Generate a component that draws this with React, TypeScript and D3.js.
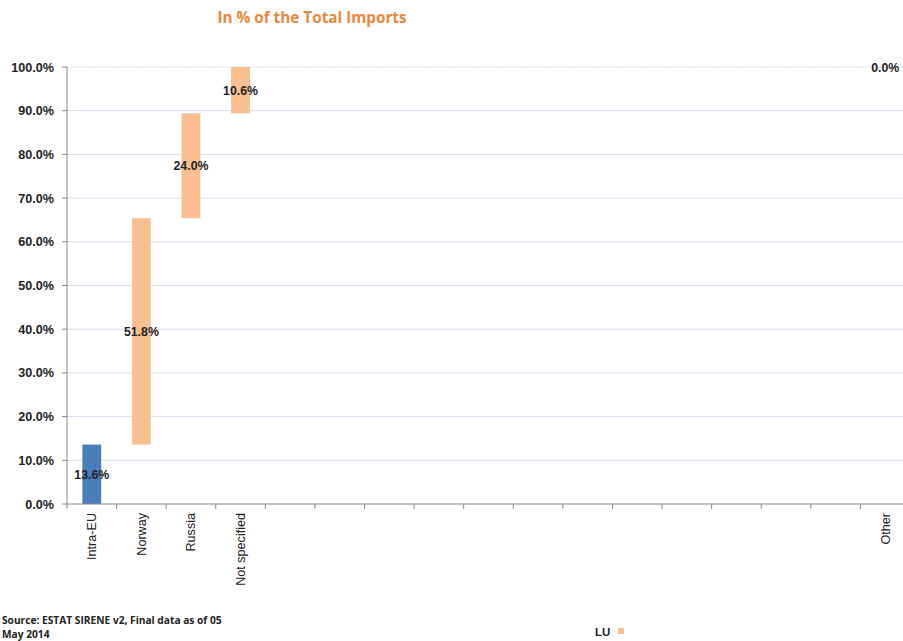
import React from "react";
import * as d3 from "d3";

const categories: string[] = [
  "Intra-EU", "Norway", "Russia", "Not specified",
  "", "", "", "", "", "", "", "", "", "", "", "",
  "Other",
];
const values: (number | null)[] = [
  13.6, 51.8, 24.0, 10.6,
  null, null, null, null, null, null, null, null, null, null, null, null,
  0.0,
];
const yTicks: number[] = [0, 10, 20, 30, 40, 50, 60, 70, 80, 90, 100];

const W = 903;
const H = 641;
const left = 67;
const right = 910;
const top = 67;
const bottom = 504;

const BLUE = "#4a7ebb";
const ORANGE = "#f9bf8f";

export default function App() {
  const x = d3.scaleBand<number>()
    .domain(categories.map((_, i) => i))
    .range([left, right])
    .paddingInner(0.62)
    .paddingOuter(0.31);
  const y = d3.scaleLinear().domain([0, 100]).range([bottom, top]);

  let cum = 0;
  const bars = values.map((v, i) => {
    if (v === null) return null;
    const start = cum;
    cum += v;
    return { i, v, start, end: cum };
  }).filter(Boolean) as { i: number; v: number; start: number; end: number }[];

  const step = (right - left) / categories.length;
  const boundaries = d3.range(categories.length + 1).map((k) => left + k * step);

  return (
    <svg width={W} height={H} style={{ position: "absolute", left: 0, top: 0, background: "#fff" }}>
      <text x={312} y={23} textAnchor="middle" fontFamily="'Open Sans', Lato, sans-serif" fontWeight="bold" fontSize={15.3} fill="#e9873b">
        In % of the Total Imports
      </text>
      {yTicks.map((t) => (
        <g key={t}>
          {t > 0 && (
            <line x1={left} x2={W} y1={y(t)} y2={y(t)} stroke="#d8dcee" strokeWidth={1}
              strokeDasharray={t === 100 ? "2,1" : undefined} />
          )}
          <line x1={left - 5} x2={left} y1={y(t)} y2={y(t)} stroke="#888" />
          <text x={54} y={y(t) + 4.5} textAnchor="end" fontFamily="'Liberation Sans', Arial, sans-serif" fontWeight="bold" fontSize={12.6} fill="#222">
            {t.toFixed(1)}%
          </text>
        </g>
      ))}
      {bars.map((b) => {
        const y0 = y(b.start);
        const y1 = y(b.end);
        return (
          <rect key={b.i} x={x(b.i)} width={x.bandwidth()} y={Math.min(y0, y1)} height={Math.abs(y0 - y1)}
            fill={b.i === 0 ? BLUE : ORANGE} />
        );
      })}
      <line x1={left} x2={left} y1={top} y2={bottom} stroke="#888" />
      <line x1={left} x2={W} y1={bottom} y2={bottom} stroke="#888" />
      {boundaries.map((bx, k) => (
        <line key={k} x1={bx} x2={bx} y1={bottom} y2={bottom + 5} stroke="#888" />
      ))}
      {bars.map((b) => (
        <text key={"l" + b.i} x={(x(b.i) as number) + x.bandwidth() / 2} y={y((b.start + b.end) / 2) + 4.5}
          textAnchor="middle" fontFamily="'Liberation Sans', Arial, sans-serif" fontWeight="bold" fontSize={12.3} fill="#222">
          {b.v.toFixed(1)}%
        </text>
      ))}
      {categories.map((c, i) => c ? (
        <text key={"c" + i} transform={`translate(${(x(i) as number) + x.bandwidth() / 2 + 4.5},${bottom + 9}) rotate(-90)`}
          textAnchor="end" fontFamily="'Liberation Sans', Arial, sans-serif" fontSize={12.6} fill="#222">
          {c}
        </text>
      ) : null)}
      <text x={2} y={624} fontFamily="'Open Sans', Lato, sans-serif" fontWeight="bold" fontSize={10.2} fill="#222">
        Source: ESTAT SIRENE v2, Final data as of 05
      </text>
      <text x={2} y={638} fontFamily="'Open Sans', Lato, sans-serif" fontWeight="bold" fontSize={10.2} fill="#222">
        May 2014
      </text>
      <text x={595} y={636} fontFamily="'Liberation Sans', Arial, sans-serif" fontWeight="bold" fontSize={11.5} fill="#222">LU</text>
      <rect x={618} y={628} width={6} height={6} fill={ORANGE} />
    </svg>
  );
}
